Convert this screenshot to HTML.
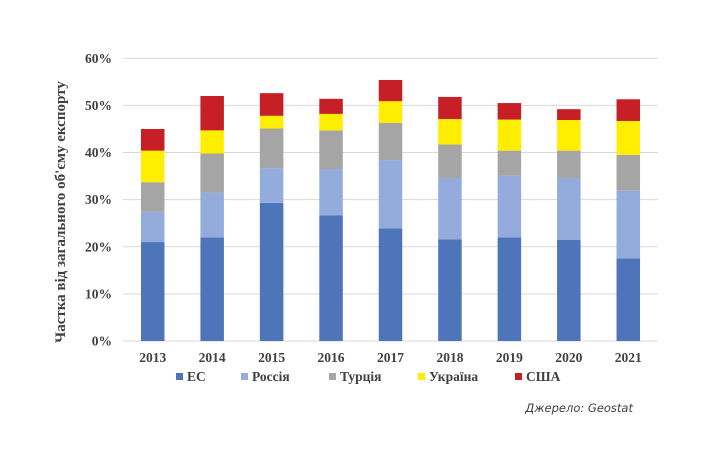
<!DOCTYPE html>
<html><head><meta charset="utf-8">
<style>
body{margin:0;background:#fff;}
svg{display:block;}
.t{font-family:"Liberation Serif","DejaVu Serif",serif;font-weight:bold;fill:#404040;}
</style></head>
<body>
<svg id="chart" width="720" height="459" xmlns="http://www.w3.org/2000/svg">
<rect width="720" height="459" fill="#fff"/>
<g id="grid"></g>
<g id="bars"></g>
<g id="yticks"></g>
<g id="xticks"></g>
<text class="t" x="0" y="0" font-size="15" text-anchor="middle" transform="translate(65,212) rotate(-90)">Частка від загального об'єму експорту</text>
<g id="legend"></g>
<text x="633" y="412" text-anchor="end" font-size="11.5" font-style="italic" fill="#404040" font-family="'DejaVu Sans','Liberation Sans',sans-serif">Джерело: Geostat</text>
</svg>
<script>
const categories=["2013","2014","2015","2016","2017","2018","2019","2020","2021"];
const seriesNames=["ЕС","Россія","Турція","Україна","США"];
const eu=[21.0,22.0,29.3,26.7,23.9,21.6,22.0,21.5,17.5];
const russia=[6.4,9.5,7.4,9.8,14.5,13.0,13.1,13.1,14.4];
const turkey=[6.3,8.3,8.4,8.2,7.9,7.1,5.3,5.8,7.6];
const ukraine=[6.7,4.9,2.7,3.5,4.6,5.4,6.6,6.5,7.2];
const usa=[4.6,7.3,4.8,3.2,4.5,4.7,3.5,2.3,4.6];
const yTicks=[0,10,20,30,40,50,60];
const colors=["#4e74ba","#93acdb","#a5a5a5","#ffee00","#c62026"];
const series=[eu,russia,turkey,ukraine,usa];
const NS="http://www.w3.org/2000/svg";
const x0=123,x1=658,y0=341,yTop=58.3,yMax=60;
const y=v=>y0-(v/yMax)*(y0-yTop);
const step=(x1-x0)/categories.length;
const xc=i=>x0+step*(i+0.5);
const bw=23.5;
function mk(tag,attrs,parent){const e=document.createElementNS(NS,tag);for(const k in attrs)e.setAttribute(k,attrs[k]);parent.appendChild(e);return e;}
const grid=document.getElementById('grid'),yt=document.getElementById('yticks');
yTicks.forEach(v=>{
 const l=mk('line',{x1:x0,x2:x1,y1:y(v),y2:y(v),stroke:'#d9d9d9','stroke-width':1},grid);
 
 
 const t=mk('text',{x:112,y:y(v)+4.5,'text-anchor':'end','font-size':13.5,class:'t'},yt);
 
 
 t.textContent=v+'%';
});
const bars=document.getElementById('bars'),xt=document.getElementById('xticks');
categories.forEach((c,i)=>{
 let cum=0;
 series.forEach((s,j)=>{
  const r=mk('rect',{x:xc(i)-bw/2,y:y(cum+s[i]),width:bw,height:y(cum)-y(cum+s[i]),fill:colors[j]},bars);
  
  
  cum+=s[i];
 });
 const t=mk('text',{x:xc(i),y:362,'text-anchor':'middle','font-size':13.5,class:'t'},xt);
 
 
 t.textContent=c;
});
const lg=document.getElementById('legend');
const lx=[179,244,332,421,518];
seriesNames.forEach((n,j)=>{
 const r=mk('rect',{x:lx[j]-3,y:373,width:7,height:7,fill:colors[j]},lg);
 
 
 const t=mk('text',{x:lx[j]+8,y:381,'font-size':13.5,class:'t'},lg);
 
 
 t.textContent=n;
});
</script>
</body></html>
